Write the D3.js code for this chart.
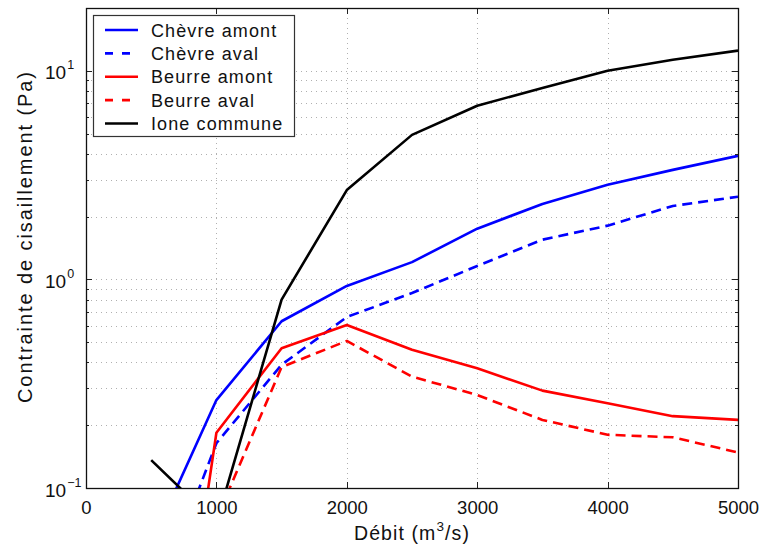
<!DOCTYPE html>
<html>
<head>
<meta charset="utf-8">
<script src="https://cdn.jsdelivr.net/npm/d3@7"></script>
<style>
  html, body { margin: 0; padding: 0; background: #fff; }
  svg { display: block; }
  text { font-family: "Liberation Sans", Arial, Helvetica, sans-serif; fill: #111; }
</style>
</head>
<body>
<svg id="chart" width="762" height="548"></svg>
<script>
// Discharge (m3/s)
const debit = [500, 1000, 1500, 2000, 2500, 3000, 3500, 4000, 4500, 5000];

// Shear stress (Pa) per reach
const chevreAmont = [0.054, 0.264, 0.63, 0.93, 1.21, 1.75, 2.30, 2.84, 3.35, 3.91];
const chevreAval  = [0.025, 0.164, 0.39, 0.66, 0.86, 1.16, 1.55, 1.81, 2.25, 2.49];
const beurreAmont = [0.0014, 0.184, 0.468, 0.605, 0.46, 0.375, 0.293, 0.255, 0.221, 0.212];
const beurreAval  = [0.03, 0.071, 0.38, 0.507, 0.342, 0.279, 0.212, 0.18, 0.175, 0.148];
const ioneCommune = [0.136, 0.068, 0.80, 2.68, 4.93, 6.8, 8.28, 10.0, 11.3, 12.5];

const seriesNames = ["Chèvre amont", "Chèvre aval", "Beurre amont", "Beurre aval", "Ione commune"];
const seriesValues = [chevreAmont, chevreAval, beurreAmont, beurreAval, ioneCommune];
const seriesColors = ["#0000ff", "#0000ff", "#ff0000", "#ff0000", "#000000"];
const seriesDashed = [false, true, false, true, false];

const xTicks = [0, 1000, 2000, 3000, 4000, 5000];
const yMajor = [0.1, 1, 10];
const yExponents = ["\u22121", "0", "1"];

const svg = d3.select("#chart");
const pLeft = 86, pRight = 738, pTop = 8, pBottom = 488;

const x = d3.scaleLinear().domain([0, 5000]).range([pLeft, pRight]);
const y = d3.scaleLog().domain([0.1, 20]).range([pBottom, pTop]);

// minor values within each decade
const yMinor = [];
for (const d of [0.1, 1, 10]) for (let k = 2; k <= 9; k++) if (d * k <= 20) yMinor.push(d * k);

// grid
const grid = svg.append("g").attr("stroke", "#b0b0b0").attr("stroke-width", 1)
  .attr("stroke-dasharray", "1,4").attr("shape-rendering", "crispEdges");
grid.selectAll(".gx").data(xTicks.slice(1, -1)).join("line")
  .attr("x1", d => Math.round(x(d)) + 0.5).attr("x2", d => Math.round(x(d)) + 0.5)
  .attr("y1", pTop).attr("y2", pBottom);
grid.selectAll(".gy").data(yMinor.concat([1, 10])).join("line")
  .attr("y1", d => Math.round(y(d)) + 0.5).attr("y2", d => Math.round(y(d)) + 0.5)
  .attr("x1", pLeft).attr("x2", pRight);

// series
svg.append("clipPath").attr("id", "plotclip")
  .append("rect").attr("x", pLeft).attr("y", pTop).attr("width", pRight - pLeft).attr("height", pBottom - pTop);

const line = d3.line().x((d, i) => x(debit[i])).y(d => y(d));
const lines = svg.append("g").attr("clip-path", "url(#plotclip)");
seriesValues.forEach((vals, i) => {
  lines.append("path")
    .attr("d", line(vals))
    .attr("fill", "none")
    .attr("stroke", seriesColors[i])
    .attr("stroke-width", 2.6)
    .attr("stroke-linejoin", "round")
    .attr("stroke-dasharray", seriesDashed[i] ? "10,6" : null);
});

// axes box with inward ticks
const axesG = svg.append("g");
const bottomAxis = d3.axisBottom(x).tickValues(xTicks).tickSizeInner(-6).tickSizeOuter(0)
  .tickPadding(13).tickFormat(d3.format("d"));
axesG.append("g").attr("transform", `translate(0,${pBottom})`).call(bottomAxis)
  .call(g => g.selectAll("text").attr("font-size", 18.5).attr("fill", "#111")
    .attr("font-family", '"Liberation Sans", Arial, sans-serif'));
const topAxis = d3.axisTop(x).tickValues(xTicks).tickSizeInner(-6).tickSizeOuter(0).tickFormat("");
axesG.append("g").attr("transform", `translate(0,${pTop})`).call(topAxis);

const leftAxis = d3.axisLeft(y).tickValues(yMajor).tickSizeInner(-6).tickSizeOuter(0).tickFormat("");
axesG.append("g").attr("transform", `translate(${pLeft},0)`).call(leftAxis);
const rightAxis = d3.axisRight(y).tickValues(yMajor).tickSizeInner(-6).tickSizeOuter(0).tickFormat("");
axesG.append("g").attr("transform", `translate(${pRight},0)`).call(rightAxis);
const leftMinor = d3.axisLeft(y).tickValues(yMinor).tickSizeInner(-3).tickSizeOuter(0).tickFormat("");
axesG.append("g").attr("transform", `translate(${pLeft},0)`).call(leftMinor);
const rightMinor = d3.axisRight(y).tickValues(yMinor).tickSizeInner(-3).tickSizeOuter(0).tickFormat("");
axesG.append("g").attr("transform", `translate(${pRight},0)`).call(rightMinor);
axesG.selectAll(".domain").remove();
axesG.selectAll("line").attr("stroke", "#222").attr("shape-rendering", "crispEdges");

svg.append("rect").attr("x", pLeft + 0.5).attr("y", pTop + 0.5)
  .attr("width", pRight - pLeft).attr("height", pBottom - pTop)
  .attr("fill", "none").attr("stroke", "#111").attr("stroke-width", 1.3);

// y tick labels as powers of ten
yMajor.forEach((v, i) => {
  const t = svg.append("text").attr("x", 45).attr("y", y(v) + 8.5)
    .attr("text-anchor", "start").attr("font-size", 19);
  t.append("tspan").text("10");
  t.append("tspan").attr("dy", -10).attr("dx", 1).attr("font-size", 12.5).text(yExponents[i]);
});

// axis titles
const xt = svg.append("text").attr("x", (pLeft + pRight) / 2).attr("y", 540)
  .attr("text-anchor", "middle").attr("font-size", 19.5).attr("letter-spacing", 1.1);
xt.append("tspan").text("Débit (m");
xt.append("tspan").attr("dy", -9).attr("font-size", 13.5).text("3");
xt.append("tspan").attr("dy", 9).text("/s)");

svg.append("text").attr("transform", `translate(32,237.5) rotate(-90)`)
  .attr("text-anchor", "middle").attr("font-size", 20)
  .attr("textLength", 331).attr("lengthAdjust", "spacing")
  .text("Contrainte de cisaillement (Pa)");

// legend
const lg = svg.append("g");
lg.append("rect").attr("x", 93.5).attr("y", 15.5).attr("width", 201).attr("height", 121)
  .attr("fill", "#fff").attr("stroke", "#333").attr("stroke-width", 1.2);
const rowY = d3.scalePoint().domain(seriesNames).range([30, 123.5]);
seriesNames.forEach((name, i) => {
  const yy = rowY(name);
  lg.append("line").attr("x1", 105).attr("x2", 138).attr("y1", yy).attr("y2", yy)
    .attr("stroke", seriesColors[i]).attr("stroke-width", 2.6)
    .attr("stroke-dasharray", seriesDashed[i] ? "8,9" : null);
  lg.append("text").attr("x", 151).attr("y", yy + 6.7).attr("font-size", 18)
    .attr("letter-spacing", 1.1).text(name);
});
</script>
</body>
</html>
